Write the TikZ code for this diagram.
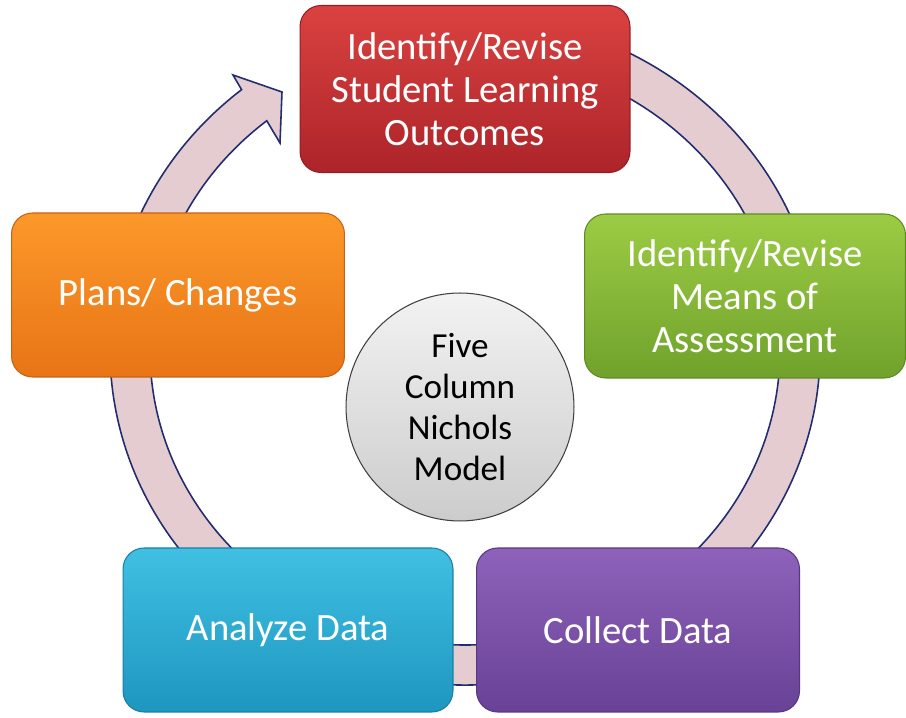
\documentclass[tikz,border=0pt]{standalone}
\usepackage{fontspec}
\setmainfont{Carlito}
\definecolor{redT}{RGB}{218,66,64}
\definecolor{redB}{RGB}{172,36,42}
\definecolor{greenT}{RGB}{156,204,68}
\definecolor{greenB}{RGB}{112,162,44}
\definecolor{purpleT}{RGB}{142,98,186}
\definecolor{purpleB}{RGB}{104,66,150}
\definecolor{cyanT}{RGB}{64,192,226}
\definecolor{cyanB}{RGB}{30,150,192}
\definecolor{orangeT}{RGB}{252,152,42}
\definecolor{orangeB}{RGB}{232,116,22}
\definecolor{ringfill}{RGB}{228,204,208}
\definecolor{ringline}{RGB}{34,44,112}
\begin{document}
\begin{tikzpicture}[
	x=0.02cm,
	y=0.02cm,
	stage/.style 2 args={rectangle,rounded corners=0.42cm,minimum width=6.6cm,minimum height=3.28cm,
		top color=#1,bottom color=#2,draw=#2!85!black,line width=0.6pt,
		text=white,align=center,font=\fontsize{22}{24.5}\selectfont},
	hub/.style={circle,minimum size=4.56cm,inner sep=0pt,top color=white!95!black,bottom color=black!20,
		draw=black!75,line width=0.6pt,align=center,font=\fontsize{20}{23.5}\selectfont},
	ring/.style={fill=ringfill,draw=ringline,line width=0.9pt,line join=miter}
	]
	\useasboundingbox (0,0) rectangle (906,717);
	% the cycle arrow behind the boxes
	\begin{scope}[shift={(465,367)}]
		\filldraw[ring] (100:355 and 335) arc[start angle=100,end angle=-231,x radius=355,y radius=335]
			-- (-232,275) -- (-183,258) -- (-185,207)
			-- (129:315 and 295) arc[start angle=-231,end angle=100,x radius=315,y radius=295] -- cycle;
	\end{scope}
	\node[stage={redT}{redB},minimum height=3.34cm] (N1) at (465,628) {Identify/Revise\\Student Learning\\Outcomes};
	\node[stage={greenT}{greenB},minimum width=6.42cm] (N2) at (745,421) {Identify/Revise\\Means of\\Assessment};
	\node[stage={purpleT}{purpleB},minimum width=6.46cm] (N3) at (638,87) {Collect Data};
	\node[stage={cyanT}{cyanB}] (N4) at (288,87) {Analyze Data};
	\node[stage={orangeT}{orangeB},minimum width=6.66cm] (N5) at (178,422) {Plans/ Changes};
	\node[hub] (M) at (460,310) {Five\\Column\\Nichols\\Model};
\end{tikzpicture}
\end{document}
